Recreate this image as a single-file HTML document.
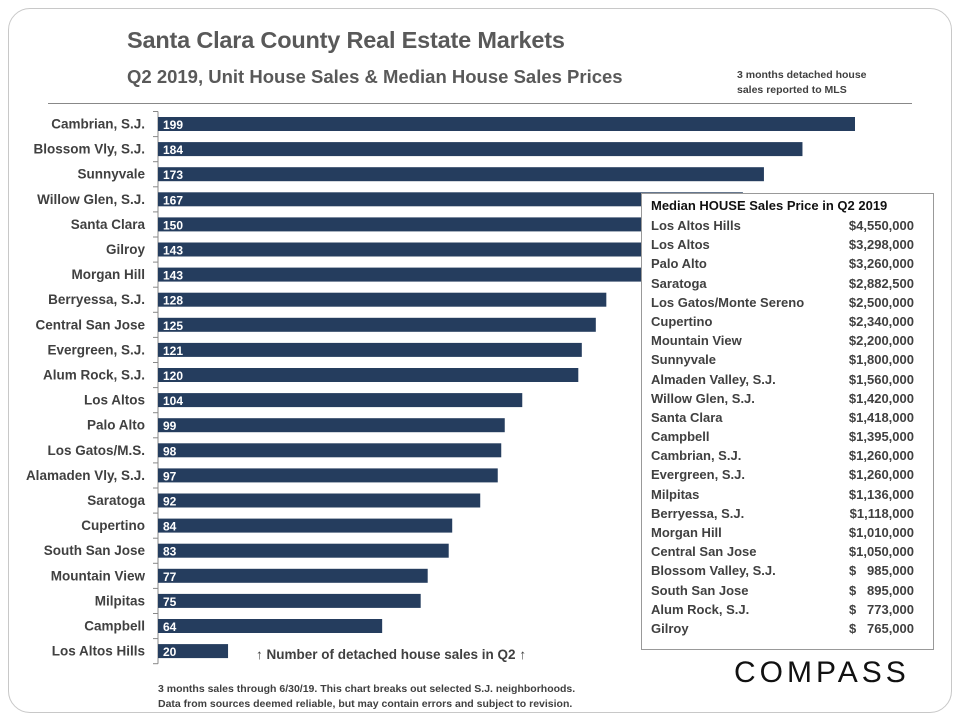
<!DOCTYPE html>
<html><head><meta charset="utf-8"><style>
body{margin:0;width:960px;height:720px;background:#fff;font-family:"Liberation Sans",sans-serif;overflow:hidden}
#frame{position:absolute;left:8px;top:8px;width:942px;height:703px;border:1px solid #c8c8c8;border-radius:22px}
.t{position:absolute;white-space:nowrap}
</style></head><body>
<div id="frame"></div>
<div class="t" style="left:127px;top:27px;font-size:23.5px;font-weight:bold;color:#595959;letter-spacing:-0.2px">Santa Clara County Real Estate Markets</div>
<div class="t" style="left:127px;top:66px;font-size:18.5px;font-weight:bold;color:#595959;letter-spacing:0px">Q2 2019, Unit House Sales &amp; Median House Sales Prices</div>
<div class="t" style="left:737px;top:68px;font-size:10.5px;font-weight:bold;color:#404040;line-height:15px">3 months detached house<br>sales reported to MLS</div>
<div style="position:absolute;left:48px;top:103px;width:864px;height:1px;background:#888"></div>
<svg id="chart" width="960" height="720" style="position:absolute;left:0;top:0"></svg>
<div style="position:absolute;left:641px;top:193px;width:291px;height:455px;border:1px solid #999;background:#fff"></div>
<div id="tbl"></div>
<div class="t" style="left:256px;top:647px;font-size:13.5px;font-weight:bold;color:#404040">↑ Number of detached house sales in Q2 ↑</div>
<div class="t" style="left:158px;top:682px;font-size:10.5px;font-weight:bold;color:#404040;line-height:15px">3 months sales through 6/30/19. This chart breaks out selected S.J. neighborhoods.<br>Data from sources deemed reliable, but may contain errors and subject to revision.</div>
<div class="t" style="left:734px;top:656px;font-size:30px;color:#111;letter-spacing:4px">COMPASS</div>
<script>
const categories=["Cambrian, S.J.","Blossom Vly, S.J.","Sunnyvale","Willow Glen, S.J.","Santa Clara","Gilroy","Morgan Hill","Berryessa, S.J.","Central San Jose","Evergreen, S.J.","Alum Rock, S.J.","Los Altos","Palo Alto","Los Gatos/M.S.","Alamaden Vly, S.J.","Saratoga","Cupertino","South San Jose","Mountain View","Milpitas","Campbell","Los Altos Hills"];
const sales=[199,184,173,167,150,143,143,128,125,121,120,104,99,98,97,92,84,83,77,75,64,20];
const priceAreas=["Los Altos Hills","Los Altos","Palo Alto","Saratoga","Los Gatos/Monte Sereno","Cupertino","Mountain View","Sunnyvale","Almaden Valley, S.J.","Willow Glen, S.J.","Santa Clara","Campbell","Cambrian, S.J.","Evergreen, S.J.","Milpitas","Berryessa, S.J.","Morgan Hill","Central San Jose","Blossom Valley, S.J.","South San Jose","Alum Rock, S.J.","Gilroy"];
const priceLabels=["$4,550,000","$3,298,000","$3,260,000","$2,882,500","$2,500,000","$2,340,000","$2,200,000","$1,800,000","$1,560,000","$1,420,000","$1,418,000","$1,395,000","$1,260,000","$1,260,000","$1,136,000","$1,118,000","$1,010,000","$1,050,000","$   985,000","$   895,000","$   773,000","$   765,000"];
const NS="http://www.w3.org/2000/svg";
const svg=document.getElementById('chart');
const x0=158, xs=(855-158)/199;
const xScale=v=>x0+v*xs;
const rowTop=111.5, rowH=25.1;
const yScale=i=>rowTop+i*rowH;
function mk(t,a){const e=document.createElementNS(NS,t);for(const k in a)e.setAttribute(k,a[k]);svg.appendChild(e);return e;}
const ax=mk('line',{x1:x0,y1:rowTop,x2:x0,y2:yScale(categories.length),stroke:'#888','stroke-width':1});


for(let i=0;i<=categories.length;i++){
  const tk=mk('line',{x1:x0-5,x2:x0,y1:yScale(i),y2:yScale(i),stroke:'#888'});
  
  
}
categories.forEach((c,i)=>{
  const y=yScale(i);
  const r=mk('rect',{x:x0,y:y+5.5,width:xScale(sales[i])-x0,height:14,fill:'#253d5e'});
  
  
  const v=mk('text',{x:x0+5,y:y+17.5,fill:'#fff','font-size':12,'font-weight':'bold','font-family':'Liberation Sans'});
  v.textContent=sales[i];
  
  
  const l=mk('text',{x:145,y:y+17,fill:'#404040','font-size':13.5,'font-weight':'bold','text-anchor':'end','font-family':'Liberation Sans'});
  l.textContent=c;
  
  
});
const tbl=document.getElementById('tbl');
let h='<div class="t" style="left:651px;top:198px;font-size:13px;font-weight:bold;color:#111">Median HOUSE Sales Price in Q2 2019</div>';
priceAreas.forEach((a,i)=>{
  const y=218+i*19.19;
  h+='<div class="t" style="left:651px;top:'+y+'px;font-size:13px;font-weight:bold;color:#404040">'+a+'</div>';
  h+='<div class="t" style="right:46px;top:'+y+'px;font-size:13px;font-weight:bold;color:#404040;white-space:pre">'+priceLabels[i]+'</div>';
});
tbl.innerHTML=h;
</script>
</body></html>
